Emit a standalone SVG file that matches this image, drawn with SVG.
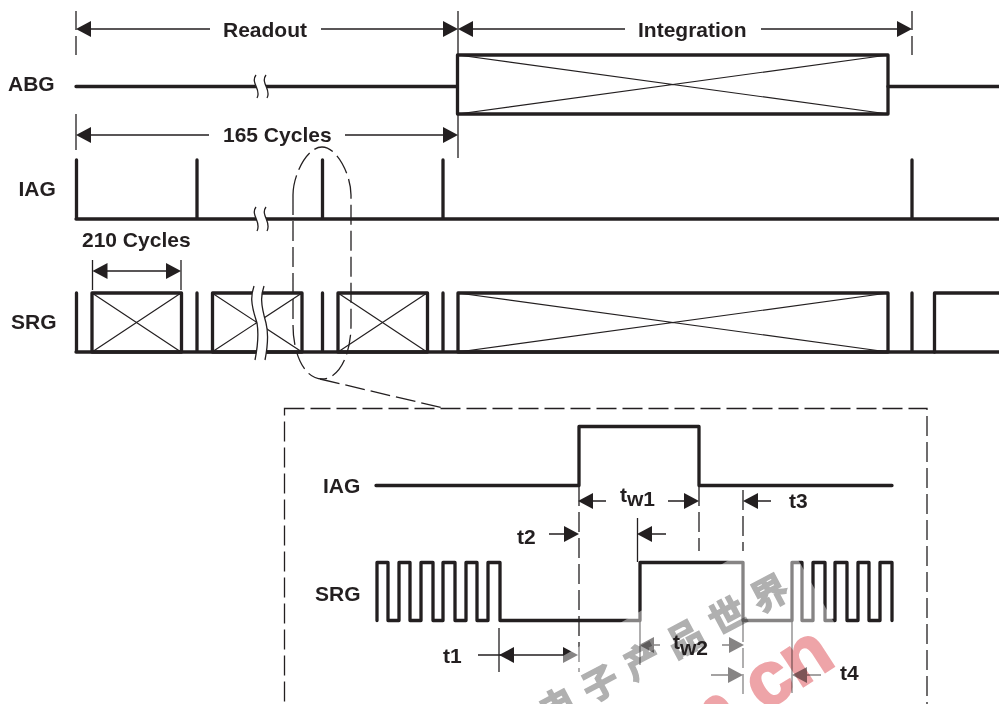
<svg xmlns="http://www.w3.org/2000/svg" width="999" height="704" viewBox="0 0 999 704">
<style>
text{font-family:"Liberation Sans",Arial,sans-serif;font-weight:700;font-size:21px;fill:#231f20}
.s{fill:none;stroke:#231f20;stroke-width:3.3;stroke-linecap:round;stroke-linejoin:round}
.t{fill:none;stroke:#231f20;stroke-width:1.3}
.d{fill:none;stroke:#231f20;stroke-width:1.3;stroke-dasharray:20 6}
.x{fill:none;stroke:#231f20;stroke-width:1.2}
.a{fill:#231f20}
.b{fill:#fff;stroke:none}
.wm{font-family:"Noto Sans CJK SC","Liberation Sans",sans-serif;font-size:36px;font-weight:700;fill:#b0b0b0;stroke:#b0b0b0;stroke-width:1.5;mix-blend-mode:multiply}
.wn{font-family:"Liberation Sans",sans-serif;font-size:76px;fill:#eea4a8;stroke:#eea4a8;stroke-width:2;mix-blend-mode:multiply}
</style>
<defs>
<path id="al" class="a" d="M0,0L15,-8V8Z"/>
<path id="ar" class="a" d="M0,0L-15,-8V8Z"/>
</defs>
<rect width="999" height="704" fill="#fff"/>

<g id="connectors">
<path class="t" d="M76,11V30M76,36V55M458,11V114M912,11V30M912,36V55M76,114V150M458,114V158"/>
<path class="t" d="M91,29H210M321,29H445M472,29H625M761,29H897M91,135H209M345,135H445"/>
<use href="#al" x="76" y="29"/><use href="#ar" x="458" y="29"/><use href="#al" x="458" y="29"/><use href="#ar" x="912" y="29"/>
<use href="#al" x="76" y="135"/><use href="#ar" x="458" y="135"/>
<path class="t" d="M92.500,260V290M181,260V290M107,271H166"/>
<use href="#al" x="92.500" y="271"/><use href="#ar" x="181" y="271"/>
<path class="d" d="M293,195C293,175 307,147 322,147C337,147 351,175 351,195V325C351,355 339,379 322,379C305,379 293,355 293,325V195"/>
<path class="d" d="M320,379L443,408"/>
</g>

<g id="abg">
<text x="8" y="91">ABG</text>
<path class="s" d="M76,86.500H457M888,86.500H999"/>
<rect class="s" x="457.500" y="55" width="430.500" height="59"/>
<path class="x" d="M458,55L888,114M458,114L888,55"/>
<path class="b" d="M256,75C250,83 262,90 257,98H267C272,90 260,83 266,75Z"/>
<path class="t" d="M256,75C250,83 262,90 257,98M266,75C260,83 272,90 267,98"/>
</g>

<g id="iag">
<text x="18.500" y="196">IAG</text>
<path class="s" d="M76,219H999M76.500,160V219M197,160V219M322.500,160V219M443,160V219M912,160V219"/>
<path class="b" d="M256,207C250,215 262,222 257,231H267C272,222 260,215 266,207Z"/>
<path class="t" d="M256,207C250,215 262,222 257,231M266,207C260,215 272,222 267,231"/>
<text x="82" y="247">210 Cycles</text>
</g>

<g id="srg">
<text x="11" y="329">SRG</text>
<path class="x" d="M92,293L181,352M92,352L181,293M212,293L302,352M212,352L302,293M338,293L427,352M338,352L427,293M458,293L888,352M458,352L888,293"/>
<path class="s" d="M76,352H999M76.500,293V352M197,293V352M322.500,293V352M443,293V352M912,293V352"/>
<rect class="s" x="92" y="293" width="89.500" height="59"/>
<rect class="s" x="212.500" y="293" width="89.500" height="59"/>
<rect class="s" x="338" y="293" width="89.500" height="59"/>
<rect class="s" x="458" y="293" width="430" height="59"/>
<path class="s" d="M934.500,352V293H999"/>
<path class="b" d="M254,286C251,295 250,302 257,323C259,335 257,350 255,360H265C267,350 269,335 266,323C260,302 261,295 264,286Z"/>
<path class="t" d="M254,286C251,295 250,302 257,323C259,335 257,350 255,360M264,286C261,295 260,302 266,323C269,335 267,350 265,360"/>
</g>

<g id="detail">
<rect class="d" x="284.500" y="408.500" width="642.500" height="310"/>
<g id="detail-connectors">
<path class="d" d="M579,486V672M699,486V551M743,490V551M743,622V695"/>
<path class="t" d="M637.500,518V562M640,622V665M792,622V693M499,628V672"/>
<path class="t" d="M592,501H606M668,501H685M549,534H565M652,534H666M757,501H771M478,655H565M653,645H660M722,645H730M711,675H728M806,675H821"/>
<use href="#al" x="578" y="501"/><use href="#ar" x="699" y="501"/><use href="#ar" x="579" y="534"/><use href="#al" x="637" y="534"/><use href="#al" x="743" y="501"/>
<use href="#al" x="499" y="655"/><use href="#ar" x="578" y="655"/><use href="#al" x="639" y="645"/><use href="#ar" x="744" y="645"/><use href="#ar" x="743" y="675"/><use href="#al" x="792" y="675"/>
</g>
<g id="detail-iag">
<path class="s" d="M376,485.500H579V426.500H699V485.500H892"/>
</g>
<g id="detail-srg">
<path class="s" d="M377,620.500V562.500H388V620.500H399V562.500H410V620.500H421V562.500H433V620.500H443V562.500H455V620.500H466V562.500H477V620.500H488V562.500H500V620.500H640V562.500H743V620.500H792V562.500H802V620.500H813V562.500H825V620.500H835V562.500H847V620.500H858V562.500H869V620.500H880V562.500H892V620.500"/>
</g>
</g>

<g id="watermark">
<path d="M781,530L480,704H881Z" fill="#fff" fill-opacity=".45"/>
<g transform="translate(548,726) rotate(-28)"><text class="wm" letter-spacing="12">电子产品世界</text></g>
<g transform="translate(838,664) rotate(-33)"><text class="wn" text-anchor="end">m.cn</text></g>
</g>

<g id="labels">
<text x="223" y="37">Readout</text>
<text x="638" y="37">Integration</text>
<text x="223" y="142">165 Cycles</text>
<text x="323" y="493">IAG</text>
<text x="315" y="601">SRG</text>
<text x="620" y="502">t<tspan dy="4">w1</tspan></text>
<text x="517" y="544">t2</text>
<text x="789" y="508">t3</text>
<text x="443" y="663">t1</text>
<text x="673" y="649">t<tspan dy="6">w2</tspan></text>
<text x="840" y="680">t4</text>
</g>
</svg>
